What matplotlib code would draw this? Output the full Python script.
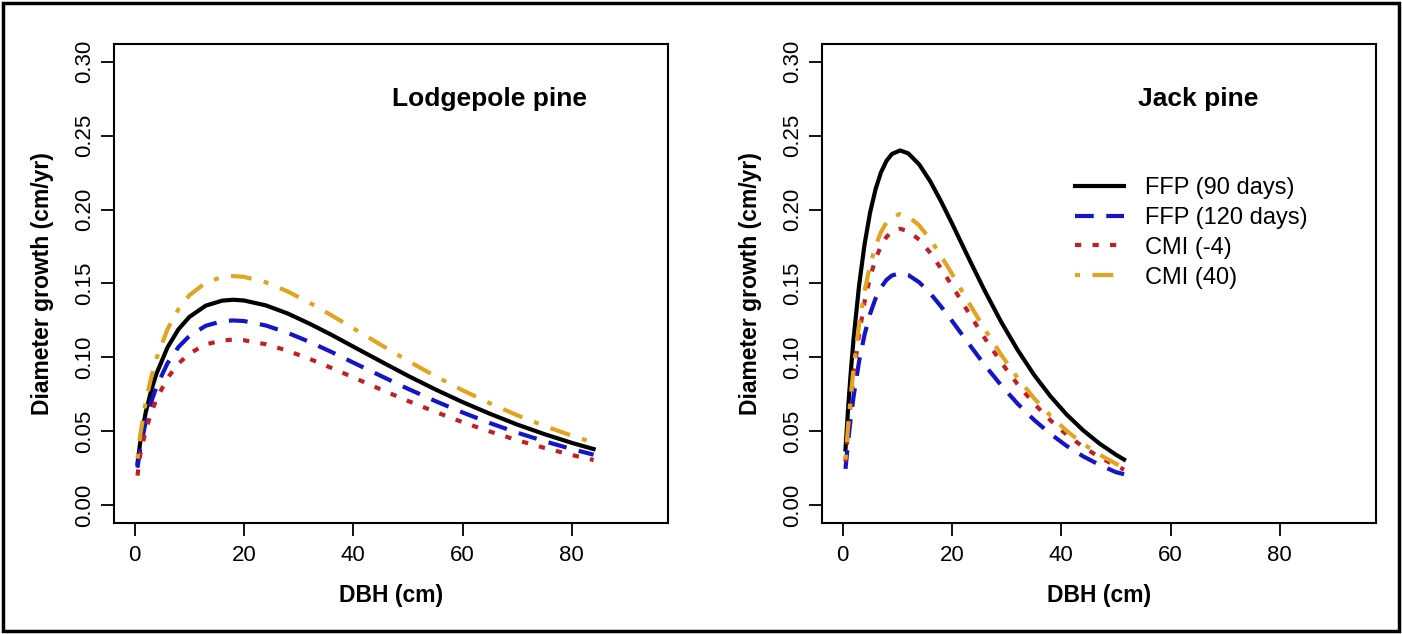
import matplotlib
matplotlib.use("Agg")
import matplotlib.pyplot as plt
from matplotlib.patches import Rectangle

plt.rcParams["font.family"] = ["Liberation Sans", "DejaVu Sans"]

# DATA
series_names = ["FFP (90 days)", "FFP (120 days)", "CMI (-4)", "CMI (40)"]

# lodgepole pine
lp_dbh = [0.5, 1, 2, 3, 4, 6, 8, 10, 13, 16, 18, 20, 24, 28, 32, 36, 40, 45,
          50, 55, 60, 65, 70, 75, 80, 84]
lp_ffp90 = [0.0283, 0.0424, 0.0626, 0.0775, 0.0892, 0.1068, 0.1190, 0.1274,
            0.1350, 0.1384, 0.1390, 0.1385, 0.1352, 0.1297, 0.1228, 0.1153,
            0.1073, 0.0974, 0.0876, 0.0784, 0.0698, 0.0619, 0.0546, 0.0481,
            0.0422, 0.0380]
lp_ffp120 = [0.0254, 0.0381, 0.0563, 0.0697, 0.0803, 0.0961, 0.1070, 0.1145,
             0.1214, 0.1245, 0.1250, 0.1246, 0.1216, 0.1166, 0.1105, 0.1037,
             0.0965, 0.0876, 0.0788, 0.0705, 0.0628, 0.0556, 0.0491, 0.0433,
             0.0380, 0.0342]
lp_cmi_m4 = [0.0200, 0.0342, 0.0504, 0.0624, 0.0719, 0.0861, 0.0958, 0.1026,
             0.1088, 0.1115, 0.1120, 0.1116, 0.1089, 0.1045, 0.0990, 0.0929,
             0.0865, 0.0784, 0.0706, 0.0632, 0.0562, 0.0499, 0.0440, 0.0388,
             0.0340, 0.0306]
lp_cmi_40 = [0.0315, 0.0473, 0.0698, 0.0864, 0.0995, 0.1191, 0.1326, 0.1420,
             0.1506, 0.1544, 0.1550, 0.1545, 0.1508, 0.1446, 0.1370, 0.1285,
             0.1197, 0.1086, 0.0977, 0.0874, 0.0778, 0.0690, 0.0609, 0.0536,
             0.0471, 0.0424]

# jack pine
jp_dbh = [0.5, 1, 1.5, 2, 3, 4, 5, 6, 7, 8, 9, 10.5, 12, 14, 16, 18, 20, 23,
          26, 29, 32, 35, 38, 41, 44, 47, 50, 51.5]
jp_ffp90 = [0.0377, 0.0667, 0.0916, 0.1133, 0.1490, 0.1767, 0.1979, 0.2137,
            0.2252, 0.2329, 0.2376, 0.2400, 0.2380, 0.2305, 0.2192, 0.2055,
            0.1906, 0.1675, 0.1450, 0.1240, 0.1051, 0.0883, 0.0738, 0.0613,
            0.0507, 0.0417, 0.0342, 0.0309]
jp_ffp120 = [0.0246, 0.0436, 0.0599, 0.0741, 0.0975, 0.1156, 0.1294, 0.1398,
             0.1473, 0.1524, 0.1554, 0.1570, 0.1557, 0.1508, 0.1434, 0.1344,
             0.1247, 0.1096, 0.0948, 0.0811, 0.0687, 0.0578, 0.0483, 0.0401,
             0.0331, 0.0273, 0.0224, 0.0210]
jp_cmi_m4 = [0.0294, 0.0520, 0.0713, 0.0882, 0.1161, 0.1377, 0.1542, 0.1665,
             0.1754, 0.1815, 0.1851, 0.1870, 0.1854, 0.1796, 0.1708, 0.1601,
             0.1485, 0.1305, 0.1130, 0.0966, 0.0819, 0.0688, 0.0575, 0.0477,
             0.0395, 0.0325, 0.0267, 0.0241]
jp_cmi_40 = [0.0309, 0.0548, 0.0752, 0.0930, 0.1223, 0.1450, 0.1624, 0.1754,
             0.1848, 0.1912, 0.1950, 0.1970, 0.1954, 0.1892, 0.1799, 0.1687,
             0.1565, 0.1375, 0.1190, 0.1018, 0.0862, 0.0725, 0.0606, 0.0503,
             0.0416, 0.0342, 0.0281, 0.0254]

x_ticks = [0, 20, 40, 60, 80]
y_ticks = [0.00, 0.05, 0.10, 0.15, 0.20, 0.25, 0.30]

# STYLE
colors = ["black", "#1414C8", "#C41E22", "#E2A420"]
styles = ["-", (0, (4.5, 3)), (0, (1.5, 2.7)), (0, (1.2, 3, 5, 3))]

fig = plt.figure(figsize=(14.02, 6.34), dpi=100)
fig.patches.append(Rectangle((0.002, 0.004), 0.996, 0.992, transform=fig.transFigure,
                             fill=False, lw=2.5, ec="black"))


def draw_panel(rect, dbh, curves, title, legend=False):
    ax = fig.add_axes(rect)
    for ys, name, c, ls in zip(curves, series_names, colors, styles):
        ax.plot(dbh, ys, color=c, ls=ls, lw=3, label=name)
    ax.set_xlim(-3.8, 97.6)
    ax.set_ylim(-0.012, 0.312)
    ax.set_xticks(x_ticks)
    ax.set_yticks(y_ticks)
    ax.set_yticklabels([f"{v:.2f}" for v in y_ticks], rotation=90, va="center")
    ax.tick_params(axis="both", direction="out", length=9.5, width=1.3, labelsize=16)
    ax.tick_params(axis="x", pad=6.5)
    ax.tick_params(axis="y", pad=4.3)
    for sp in ax.spines.values():
        sp.set_linewidth(1.5)
    ax.set_xlabel("DBH (cm)", fontsize=16.5, fontweight="bold")
    ax.set_ylabel("Diameter growth (cm/yr)", fontsize=16.5, fontweight="bold")
    ax.xaxis.set_label_coords(0.5, -0.128)
    ax.yaxis.set_label_coords(-0.108, 0.5)
    ax.text(65, 0.275, title, ha="center", va="center", fontsize=19, fontweight="bold")
    if legend:
        ax.legend(loc="upper left", bbox_to_anchor=(0.456, 0.722), frameon=False,
                  fontsize=17, handlelength=2.1, handletextpad=0.9,
                  labelspacing=0.33, borderpad=0, borderaxespad=0)
    return ax


draw_panel([0.0813, 0.1751, 0.3951, 0.7555], lp_dbh,
           [lp_ffp90, lp_ffp120, lp_cmi_m4, lp_cmi_40], "Lodgepole pine")
draw_panel([0.5863, 0.1751, 0.3951, 0.7555], jp_dbh,
           [jp_ffp90, jp_ffp120, jp_cmi_m4, jp_cmi_40], "Jack pine", legend=True)

fig.savefig("out.png", dpi=100)
